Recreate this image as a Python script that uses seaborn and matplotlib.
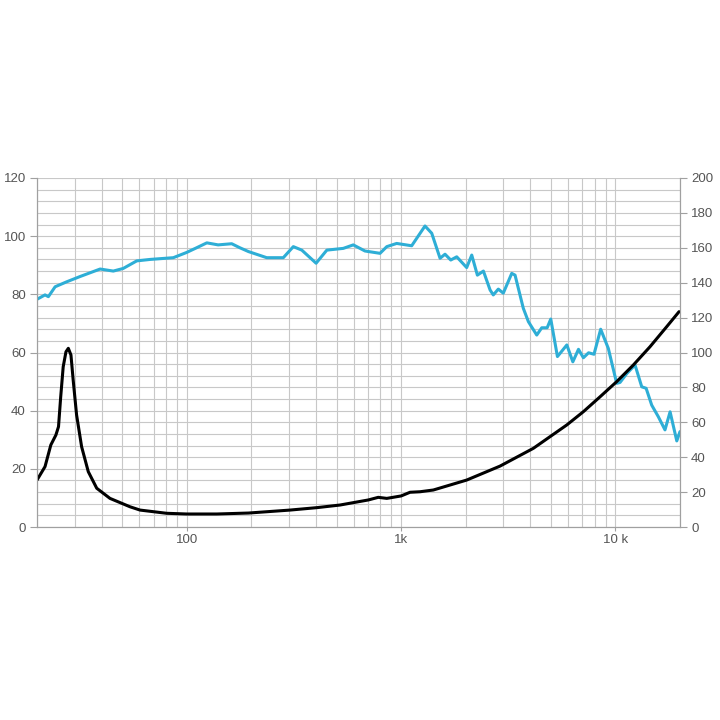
import numpy as np
import pandas as pd
import matplotlib
matplotlib.use("Agg")
import matplotlib.pyplot as plt
import matplotlib.ticker as mticker
import seaborn as sns

# ── Data ──────────────────────────────────────────────────
spl_freq = [20, 21.8, 22.6, 24.3, 27.5, 31.7, 39.4, 45.4, 50.5, 58.4, 67.4, 86.5,
            99.8, 111, 124, 140, 162, 177, 194, 236, 282, 314, 344, 401, 450,
            537, 598, 678, 797, 857, 953, 1120, 1292, 1389, 1519, 1602, 1704,
            1817, 2022, 2135, 2268, 2420, 2600, 2691, 2840, 2996, 3281, 3400,
            3715, 3924, 4292, 4530, 4800, 4990, 5360, 5930, 6325, 6720, 7085,
            7490, 7940, 8530, 9260, 10130, 10500, 11300, 12340, 13260, 13900,
            14760, 15850, 17020, 17980, 19320, 20000]
spl_db = [78.3, 79.8, 79.2, 82.6, 84.3, 86.1, 88.7, 88.0, 88.9, 91.5, 92.0, 92.6,
          94.4, 96.0, 97.7, 97.0, 97.4, 96.0, 94.7, 92.6, 92.6, 96.4, 95.2, 90.7, 95.2,
          95.8, 97.0, 94.9, 94.1, 96.4, 97.5, 96.7, 103.5, 101.0, 92.4, 93.8, 91.8,
          92.9, 89.2, 93.5, 86.6, 88.0, 81.5, 79.8, 81.8, 80.4, 87.2, 86.6,
          75.2, 70.6, 66.0, 68.5, 68.5, 71.5, 58.6, 62.6, 56.8, 61.1, 58.2,
          59.9, 59.4, 68.0, 61.4, 49.4, 49.7, 52.8, 55.7, 48.2, 47.7,
          41.9, 37.9, 33.4, 39.6, 29.6, 32.8]

imp_freq = [20, 21.8, 23.2, 24.5, 25.2, 25.8, 26.5, 27.3, 28.0, 28.8, 29.5, 30.6,
            32.3, 34.7, 38.0, 43.8, 54.3, 60.5, 80.6, 100, 138, 194, 303, 405,
            519, 703, 782, 857, 1000, 1100, 1225, 1413, 2022, 2893, 4140, 5930,
            7085, 8470, 10130, 12110, 14490, 17340, 19800]
imp_ohm = [26.9, 34.6, 47.0, 52.7, 57.5, 74.6, 91.8, 100.4, 102.4, 98.6, 84.2, 64.2,
           46.0, 31.7, 22.2, 16.4, 11.6, 9.7, 7.85, 7.45, 7.45, 8.0, 9.7, 11.1,
           12.6, 15.5, 17.0, 16.4, 17.8, 19.9, 20.2, 21.2, 26.9, 34.9, 45.1, 58.5,
           66.1, 74.6, 83.3, 92.8, 103.3, 114.8, 123.4]

left_ticks = [0, 20, 40, 60, 80, 100, 120]
right_ticks = [0, 20, 40, 60, 80, 100, 120, 140, 160, 180, 200]
x_ticks = [100, 1000, 10000]
x_labels = ["100", "1k", "10 k"]

# ── Style ─────────────────────────────────────────────────
sns.set_theme(style="white")
plt.rcParams["font.family"] = ["Liberation Sans", "DejaVu Sans"]
BLUE = "#2EAED6"
GRID = "#C8C8C8"
TXT = "#555555"

fig = plt.figure(figsize=(7.2, 7.2), dpi=100)
ax = fig.add_axes([37 / 720, 1 - 527 / 720, 643 / 720, 349 / 720])
ax2 = ax.twinx()

spl = pd.DataFrame({"freq": spl_freq, "db": spl_db})
imp = pd.DataFrame({"freq": imp_freq, "ohm": imp_ohm})

ax.set_xscale("log")
ax.set_xlim(20, 20000)
ax.set_ylim(0, 120)
ax2.set_ylim(0, 200)

# grid
ax.xaxis.set_minor_locator(mticker.LogLocator(base=10, subs=np.arange(2, 10)))
ax.yaxis.set_minor_locator(mticker.MultipleLocator(4))
ax.grid(which="both", axis="both", color=GRID, linewidth=0.8)
ax.set_axisbelow(True)

sns.lineplot(data=spl, x="freq", y="db", ax=ax, color=BLUE, linewidth=2.2)
sns.lineplot(data=imp, x="freq", y="ohm", ax=ax2, color="black", linewidth=2.2)
ax2.set_xscale("log")
ax2.set_xlim(20, 20000)

ax.set_xticks(x_ticks)
ax.set_xticklabels(x_labels)
ax.set_yticks(left_ticks)
ax2.set_yticks(right_ticks)
ax.xaxis.set_minor_formatter(mticker.NullFormatter())

for a in (ax, ax2):
    a.set_xlabel("")
    a.set_ylabel("")
    for s in a.spines.values():
        s.set_color("#A0A0A0")
        s.set_linewidth(0.8)
    a.spines["top"].set_visible(False)
ax.tick_params(axis="y", which="major", direction="out", length=5, width=0.8,
               color="#A0A0A0", labelcolor=TXT, labelsize=9.5, pad=3, left=True)
ax.tick_params(axis="y", which="minor", length=0)
ax.tick_params(axis="x", which="major", direction="out", length=3, width=0.8,
               color="#A0A0A0", labelcolor=TXT, labelsize=9.5, pad=2, bottom=True)
ax.tick_params(axis="x", which="minor", length=0)
ax2.tick_params(axis="y", which="major", direction="out", length=5, width=0.8,
                color="#A0A0A0", labelcolor=TXT, labelsize=9.5, pad=3, right=True)

fig.savefig("out.png", dpi=100, facecolor="white")
